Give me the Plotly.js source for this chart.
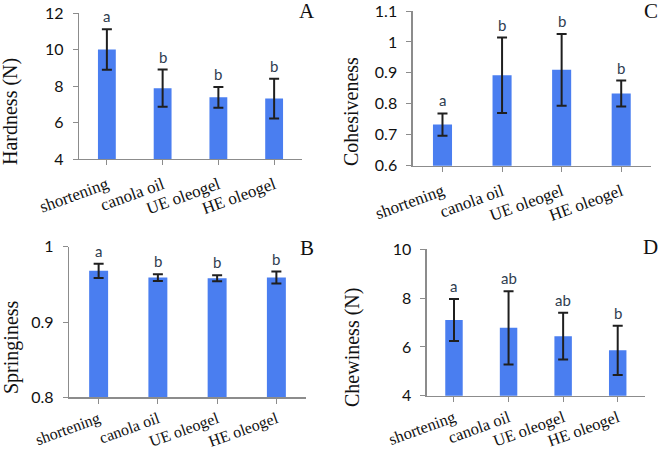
<!DOCTYPE html>
<html><head><meta charset="utf-8">
<script src="https://cdn.plot.ly/plotly-3.0.1.min.js"></script>
<style>html,body{margin:0;padding:0;background:#fff}</style>
</head><body><div id="chart" style="width:661px;height:452px"></div>
<script>
const categories = ["shortening", "canola oil", "UE oleogel", "HE oleogel"];
const hardness = [10.0, 7.88, 7.38, 7.31];
const hardnessErr = [1.11, 1.02, 0.57, 1.09];
const hardnessLetters = ["a", "b", "b", "b"];
const cohesiveness = [0.733, 0.892, 0.910, 0.833];
const cohesivenessErr = [0.036, 0.122, 0.116, 0.042];
const cohesivenessLetters = ["a", "b", "b", "b"];
const springiness = [0.968, 0.959, 0.958, 0.959];
const springinessErr = [0.0095, 0.0045, 0.004, 0.008];
const springinessLetters = ["a", "b", "b", "b"];
const chewiness = [7.10, 6.78, 6.44, 5.86];
const chewinessErr = [0.86, 1.50, 0.96, 1.01];
const chewinessLetters = ["a", "ab", "ab", "b"];
const yTitles = ["Hardness (N)", "Cohesiveness", "Springiness", "Chewiness (N)"];
const panelLetters = ["A", "C", "B", "D"];

const barColor = '#4a7ef0';
const letterColor = '#2f3d50';
const serif = 'Liberation Serif, Times New Roman, serif';
const sans = 'Lato, Open Sans, sans-serif';

function bar(y, err, xa, ya) {
  return {type: 'bar', x: categories, y: y, xaxis: xa, yaxis: ya, width: 0.32,
    marker: {color: barColor, line: {width: 0}},
    error_y: {type: 'data', array: err, visible: true, color: '#1f1f1f', thickness: 2, width: 5},
    hoverinfo: 'skip', showlegend: false};
}
const data = [
  bar(hardness, hardnessErr, 'x', 'y'),
  bar(cohesiveness, cohesivenessErr, 'x2', 'y2'),
  bar(springiness, springinessErr, 'x3', 'y3'),
  bar(chewiness, chewinessErr, 'x4', 'y4')
];

function xax(d, anchor, standoff, size) {
  return {domain: d, anchor: anchor, showline: true, linecolor: '#8c8c8c', linewidth: 1.3, ticks: 'outside', ticklen: 5,
    tickcolor: '#8c8c8c', tickangle: -20, tickfont: {family: serif, size: size, color: '#111'},
    ticklabelstandoff: standoff,
    showgrid: false, zeroline: false, fixedrange: true};
}
function yax(d, range, dtick, anchor, fmt) {
  return {domain: d, range: range, dtick: dtick, showline: true, linecolor: '#8c8c8c', linewidth: 1.3,
    ticks: 'outside', ticklen: 5, tickcolor: '#8c8c8c', tickfont: {family: sans, size: 16, color: '#111'},
    ticklabelstandoff: 6, tickformat: fmt,
    showgrid: false, zeroline: false, anchor: anchor};
}

function letters(vals, errs, labs, xa, ya) {
  return categories.map((c, i) => ({x: c, y: vals[i] + errs[i], xref: xa, yref: ya, text: labs[i],
    showarrow: false, yanchor: 'bottom', yshift: 2, font: {family: sans, size: 15, color: letterColor}}));
}
function panelLabel(t, x, y, xanchor) {
  return {text: t, xref: 'paper', yref: 'paper', x: x, y: y, xanchor: xanchor, yanchor: 'middle',
    showarrow: false, font: {family: serif, size: 21, color: '#111'}};
}
function yTitle(t, xpx, ypx) {
  return {text: t, xref: 'paper', yref: 'paper', x: xpx/661, y: 1 - ypx/452, textangle: -90,
    xanchor: 'center', yanchor: 'middle', showarrow: false, font: {family: serif, size: 20, color: '#111'}};
}

const layout = {
  width: 661, height: 452, margin: {l: 0, r: 0, t: 0, b: 0},
  paper_bgcolor: '#fff', plot_bgcolor: 'rgba(0,0,0,0)', showlegend: false,
  xaxis: xax([79/661, 302/661], 'y', 3, 17),
  yaxis: yax([1-159/452, 1-13/452], [4, 12], 2, 'x', ''),
  xaxis2: xax([412.7/661, 651/661], 'y2', 3, 17),
  yaxis2: yax([1-165.7/452, 1-11/452], [0.6, 1.1], 0.1, 'x2', '.1~f'),
  xaxis3: xax([69/661, 306/661], 'y3', 0, 16),
  yaxis3: yax([1-397.3/452, 1-246.7/452], [0.8, 1.0], 0.1, 'x3', ''),
  xaxis4: xax([426.7/661, 645/661], 'y4', 0, 16.5),
  yaxis4: yax([1-395.7/452, 1-249.3/452], [4, 10], 2, 'x4', ''),
  annotations: [].concat(
    letters(hardness, hardnessErr, hardnessLetters, 'x', 'y'),
    letters(cohesiveness, cohesivenessErr, cohesivenessLetters, 'x2', 'y2'),
    letters(springiness, springinessErr, springinessLetters, 'x3', 'y3'),
    letters(chewiness, chewinessErr, chewinessLetters, 'x4', 'y4'),
    [panelLabel(panelLetters[0], 307/661, 1-11/452, 'center'),
     panelLabel(panelLetters[1], 660/661, 1-11/452, 'right'),
     panelLabel(panelLetters[2], 307/661, 1-248/452, 'center'),
     panelLabel(panelLetters[3], 660/661, 1-247/452, 'right'),
     yTitle(yTitles[0], 11, 112), yTitle(yTitles[1], 351, 112),
     yTitle(yTitles[2], 11, 347), yTitle(yTitles[3], 352, 348)]
  )
};
Plotly.newPlot('chart', data, layout, {staticPlot: true, displayModeBar: false});
</script></body></html>
